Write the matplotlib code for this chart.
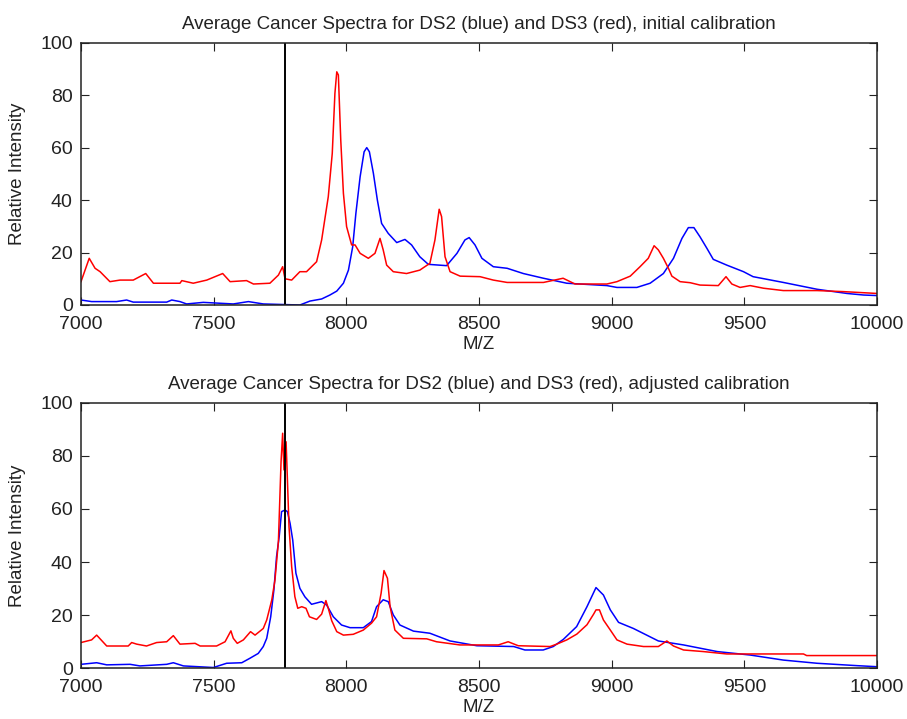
import numpy as np
import matplotlib
matplotlib.use("Agg")
import matplotlib.pyplot as plt

plt.rcParams['font.family'] = ['Liberation Sans', 'DejaVu Sans']

# m/z of the reference marker line
marker_mz = 7769

# ---- initial calibration ----
top_red_mz = [7000, 7031, 7053, 7072, 7109, 7147, 7197, 7244, 7273, 7373, 7380, 7423, 7474, 7534,
              7562, 7624, 7650, 7712, 7744, 7760, 7769, 7794, 7825, 7850, 7888, 7907, 7932, 7947,
              7957, 7964, 7970, 7979, 7989, 8001, 8020, 8033, 8052, 8083, 8108, 8127, 8139, 8152,
              8177, 8227, 8277, 8315, 8334, 8350, 8359, 8372, 8391, 8429, 8504, 8554, 8606, 8743,
              8817, 8862, 8982, 9020, 9070, 9107, 9138, 9160, 9176, 9195, 9214, 9227, 9258, 9296,
              9333, 9402, 9431, 9453, 9484, 9522, 9572, 9647, 9774, 9874, 10000]
top_red = [8.9, 17.8, 14, 12.7, 8.9, 9.5, 9.5, 12, 8.3, 8.3, 9.3, 8.3, 9.5, 12,
           8.9, 9.3, 8, 8.3, 11.4, 14.6, 10, 9.5, 12.7, 12.7, 16.5, 24.8, 41.3, 57.8,
           80.7, 88.9, 87.7, 62.9, 42.6, 29.9, 22.9, 22.9, 19.7, 17.8, 19.7, 25.4, 21, 15.2,
           12.7, 12, 13.3, 15.9, 24.8, 36.5, 33.7, 18.4, 12.7, 11, 10.8, 9.5, 8.6, 8.6,
           10.2, 8, 8, 8.9, 11, 14.6, 17.8, 22.6, 21, 17.8, 14, 11, 8.9, 8.5,
           7.6, 7.4, 10.8, 8, 6.7, 7.4, 6.4, 5.5, 5.5, 5.1, 4.4]

top_blue_mz = [7000, 7040, 7134, 7172, 7197, 7323, 7342, 7373, 7398, 7461, 7574, 7631, 7687, 7825,
               7863, 7907, 7938, 7964, 7989, 8008, 8024, 8036, 8052, 8067, 8077, 8087, 8102, 8117,
               8133, 8158, 8190, 8221, 8246, 8277, 8309, 8378, 8417, 8447, 8463, 8485, 8511, 8554,
               8606, 8667, 8743, 8831, 8982, 9020, 9095, 9145, 9195, 9233, 9265, 9289, 9310, 9333,
               9359, 9383, 9434, 9497, 9533, 9647, 9774, 9887, 9950, 10000]
top_blue = [1.9, 1.3, 1.3, 1.9, 1.1, 1.1, 1.9, 1.3, 0.4, 1, 0.4, 1.3, 0.4, 0,
            1.5, 2.3, 3.8, 5.3, 8.3, 13.3, 22.2, 34.9, 48.9, 58.4, 60, 58.4, 50.2, 40,
            31.1, 27.3, 23.8, 25, 22.9, 18.4, 15.5, 15, 19.7, 24.8, 25.7, 22.9, 17.8, 14.6,
            14, 12, 10.2, 8.3, 7.4, 6.7, 6.7, 8.3, 12, 17.8, 25.4, 29.5, 29.5, 26,
            21.6, 17.4, 15.2, 12.7, 10.8, 8.6, 6, 4.4, 3.8, 3.6]

# ---- adjusted calibration ----
bot_red_mz = [7000, 7040, 7059, 7097, 7178, 7191, 7210, 7247, 7285, 7323, 7348, 7373, 7430, 7449,
              7511, 7543, 7565, 7574, 7589, 7612, 7639, 7656, 7687, 7700, 7719, 7731, 7744, 7754,
              7760, 7765, 7773, 7778, 7784, 7794, 7806, 7817, 7832, 7848, 7861, 7888, 7907, 7923,
              7932, 7945, 7964, 7989, 8026, 8064, 8095, 8114, 8131, 8142, 8155, 8165, 8183, 8215,
              8303, 8340, 8428, 8454, 8573, 8610, 8648, 8768, 8793, 8831, 8869, 8907, 8932, 8941,
              8954, 8969, 8995, 9020, 9058, 9120, 9176, 9208, 9233, 9271, 9346, 9434, 9723, 9735,
              10000]
bot_red = [9.7, 10.7, 12.5, 8.4, 8.4, 9.7, 9.1, 8.4, 9.7, 10, 12.3, 9.1, 9.4, 8.4,
           8.4, 10, 14.1, 11.3, 9.4, 10.7, 13.8, 12.5, 15, 18.2, 25.7, 33.2, 47.7, 77.8,
           88.5, 74.7, 85.3, 71, 53.3, 38.3, 27, 22.6, 23.2, 22.6, 19.4, 18.4, 20.4, 25.5,
           22.6, 17.9, 13.8, 12.5, 12.8, 14.4, 17, 19.4, 28.2, 36.8, 33.9, 23.2, 14.4, 11.3,
           11.1, 10, 8.8, 8.8, 8.8, 10, 8.5, 8.2, 9.1, 10.7, 12.9, 16.4, 20.4, 22,
           22, 18.2, 14.4, 10.7, 9.1, 8.2, 8.2, 10.3, 8.4, 6.9, 6.3, 5.4, 5.4, 4.8,
           4.8]

bot_blue_mz = [7000, 7059, 7097, 7185, 7222, 7323, 7348, 7386, 7499, 7549, 7606, 7637, 7668, 7687,
               7700, 7715, 7727, 7737, 7747, 7756, 7769, 7778, 7788, 7798, 7810, 7825, 7844, 7869,
               7907, 7926, 7951, 7982, 8014, 8064, 8095, 8114, 8139, 8158, 8177, 8202, 8253, 8315,
               8391, 8492, 8631, 8673, 8742, 8780, 8818, 8868, 8907, 8941, 8969, 8995, 9026, 9082,
               9176, 9271, 9398, 9522, 9647, 9774, 9925, 10000]
bot_blue = [1.5, 2.1, 1.3, 1.5, 0.9, 1.5, 2.1, 0.9, 0.3, 1.9, 2.1, 3.8, 5.6, 8.2,
            11.3, 19.4, 29.5, 42, 49.6, 59, 59.6, 59, 54.6, 48.3, 35.8, 30.1, 26.9, 24.1,
            25.1, 23.8, 19.4, 16.3, 15.3, 15.3, 17.6, 23.2, 25.8, 25.1, 20.1, 16.3, 14, 13.2,
            10.3, 8.5, 8.2, 6.9, 6.9, 8.2, 10.9, 15.7, 23.2, 30.4, 27.6, 22, 17.3, 15,
            10.3, 8.8, 6.3, 5, 3.1, 1.9, 1, 0.6]

x_ticks = [7000, 7500, 8000, 8500, 9000, 9500, 10000]
y_ticks = [0, 20, 40, 60, 80, 100]

fig = plt.figure(figsize=(9.07, 7.19), dpi=100)
ax1 = fig.add_axes([0.0893, 0.5758, 0.8776, 0.3648])
ax2 = fig.add_axes([0.0893, 0.0705, 0.8776, 0.3694])

panels = [
    (ax1, top_blue_mz, top_blue, top_red_mz, top_red, "initial calibration"),
    (ax2, bot_blue_mz, bot_blue, bot_red_mz, bot_red, "adjusted calibration"),
]

for ax, bx, by, rx, ry, tag in panels:
    ax.plot(bx, by, color='#0000ff', lw=1.1)
    ax.plot(rx, ry, color='#ff0000', lw=1.1)
    ax.axvline(marker_mz, color='black', lw=1.4)
    ax.set_xlim(7000, 10000)
    ax.set_ylim(0, 100)
    ax.set_xticks(x_ticks)
    ax.set_yticks(y_ticks)
    ax.tick_params(direction='in', top=True, right=True, length=5.5, labelsize=14,
                   colors='#222222', labelcolor='#222222')
    ax.tick_params(axis='x', pad=8)
    ax.tick_params(axis='y', pad=6)
    for s in ax.spines.values():
        s.set_linewidth(1.1)
        s.set_color('#222222')
    ax.set_xlabel("M/Z", fontsize=13.5, labelpad=2, color='#222222')
    ax.set_ylabel("Relative Intensity", fontsize=13.5, labelpad=10, color='#222222')
    ax.set_title("Average Cancer Spectra for DS2 (blue) and DS3 (red), " + tag,
                 fontsize=13.5, pad=10, color='#222222')

fig.savefig("out.png", dpi=100)
